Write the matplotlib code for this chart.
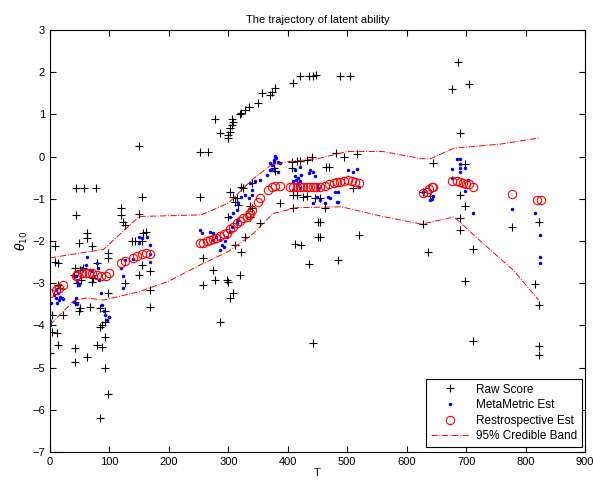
#!/usr/bin/env python3
# coding: utf-8

import numpy
import matplotlib
matplotlib.use('Agg')
from matplotlib import pyplot as plt


TITLE = 'The trajectory of latent ability'
XLABEL = 'T'
YLABEL = r'$\theta_{10}$'

# raw scores (+)
RAW_T = [0, 3, 3, 11, 14, 22, 8, 8, 14, 14, 17,
         43, 57, 77, 43, 48, 62, 62, 70, 42, 50, 56, 79, 73, 70, 98, 98, 42, 48, 50, 67,
         84, 93, 87, 93, 98, 42, 42, 62, 79, 87, 93, 93, 98, 84, 40, 46, 52, 84,
         119, 119, 122, 126, 149, 149, 154, 157, 162, 154, 143, 154, 149, 168, 168, 168, 126, 138,
         252, 266, 252, 278, 286, 299, 300, 303, 306, 306, 303, 308, 320, 322, 328, 334, 350,
         356, 370, 373, 378, 409, 421, 435, 443, 447, 488, 505,
         258, 275, 258, 278, 297, 300, 303, 308, 286, 300, 311, 322, 328, 320, 303, 308, 314,
         311, 317, 322, 325, 339, 336, 339, 336, 354,
         376, 379, 387, 407, 415, 420, 432, 440, 407, 409, 415, 426, 432, 446, 454, 409, 463,
         451, 454, 451, 454, 412, 423, 435, 442, 465, 470, 481, 494, 516, 510, 485, 519,
         628, 639, 645, 628, 636, 687, 676, 705, 690, 698, 690, 698, 690, 690, 712, 698, 712,
         777, 823, 816, 822, 822, 822]
RAW_Y = [-4.66, -3.75, -4.15, -4.17, -4.46, -3.75, -2.13, -2.49, -2.53, -3.04, -3.12,
         -0.75, -0.75, -0.75, -1.38, -2.05, -1.82, -1.93, -2.13, -2.65, -2.68, -2.65, -2.53, -2.88, -2.96, -2.29, -2.41, -3.44, -3.67, -3.59, -3.57,
         -3.59, -3.67, -3.99, -3.91, -3.24, -4.54, -4.86, -4.74, -4.46, -4.5, -4.27, -5.01, -5.63, -6.2, -2.8, -3.0, -2.92, -4.03,
         -1.22, -1.38, -1.54, -1.62, -1.35, 0.24, -0.95, -1.82, -1.78, -2.01, -2.01, -2.57, -2.8, -2.72, -3.16, -3.57, -3.0, -2.01,
         0.12, 0.12, -0.95, 0.89, 0.55, 0.44, 0.51, 0.59, 0.75, 0.89, 0.67, 0.83, 1.0, 1.03, 1.1, 1.18, 1.26,
         1.5, 1.46, 1.54, 1.62, 1.75, 1.9, 1.9, 1.91, 1.94, 1.9, 1.9,
         -2.41, -2.68, -3.04, -2.92, -2.92, -2.98, -3.36, -3.24, -3.91, -1.42, -2.09, -2.27, -1.9, -2.8, -0.83, -0.95, -0.99,
         -1.07, -1.14, -0.71, -0.75, -1.22, -1.42, -0.63, -1.18, -1.57,
         -0.28, -0.33, -1.1, -0.12, -0.1, -0.1, -0.08, 0.0, -0.28, -0.91, -0.91, -0.95, -0.93, -0.99, -0.99, -1.22, -1.22,
         -1.54, -1.54, -1.9, -1.9, -2.07, -2.09, -2.55, -4.42, -0.25, -0.24, 0.08, 0.0, 0.06, -0.75, -2.45, -1.86,
         -0.83, -0.93, -0.14, -1.6, -2.27, 2.25, 1.6, 1.72, 0.57, -0.17, -0.9, -1.17, -1.45, -1.74, -2.18, -2.95, -4.38,
         -1.67, -1.55, -3.02, -3.51, -4.49, -4.7]

# MetaMetric estimates (blue dots)
META_T = [0, 0, 2, 7, 10, 12, 15, 21, 10, 13, 16, 22,
          43, 46, 49, 43, 46, 40, 54, 60, 62, 68, 71, 74, 79, 80, 82, 85, 88, 90, 93, 96, 99,
          120, 122, 122, 127, 149, 149, 154, 163, 168, 168, 168, 140,
          252, 255, 269, 275, 280, 286, 289, 294, 297, 303, 306, 314, 317, 275, 286, 292,
          303, 308, 314, 317, 322, 328, 334, 339, 339, 336, 345, 353, 365, 370, 373, 378,
          381, 384, 376, 387, 379, 376, 370, 373, 384,
          412, 420, 423, 418, 414, 418, 435, 443, 446, 449, 451, 449, 443, 454, 471, 482,
          485, 502, 510, 516, 519, 412, 421, 409, 415, 421, 409, 437, 463, 468, 479, 485,
          628, 639, 642, 645, 685, 690, 690, 690, 698, 676, 676, 690, 704, 698, 711,
          777, 816, 824, 824, 824]
META_Y = [-3.9, -3.99, -3.47, -3.28, -3.36, -3.47, -3.4, -3.36, -3.16, -3.24, -3.32, -3.37,
          -2.84, -2.96, -3.04, -3.36, -3.49, -3.44, -2.65, -2.57, -2.38, -2.68, -2.72, -2.84, -2.53, -2.65, -2.92, -3.24, -3.51, -3.67, -3.75, -3.87, -3.79,
          -2.65, -2.84, -3.12, -2.45, -1.9, -2.04, -1.93, -1.9, -2.09, -2.31, -2.49, -2.42,
          -1.74, -1.82, -1.78, -1.82, -1.9, -1.98, -2.09, -2.01, -1.9, -1.78, -1.66, -1.58, -1.5, -1.98, -2.22, -2.14,
          -1.42, -1.34, -1.26, -1.1, -0.95, -0.91, -0.99, -0.91, -0.79, -0.63, -0.59, -0.55, -0.43, -0.32, -0.2, 0.02,
          -0.04, -0.12, -0.12, -0.16, 0.0, -0.08, -0.16, -0.32, -0.36,
          -0.32, -0.24, -0.43, -0.51, -0.55, -0.63, -0.39, -0.36, -0.47, -0.67, -0.75, -0.95, -1.1, -1.03, -0.99, -1.07,
          -0.83, -0.32, -0.36, -0.3, -0.71, -0.47, -0.59, -0.59, -0.67, -0.75, -0.79, -0.32, -1.1, -0.95, -0.83, -1.07,
          -0.83, -1.03, -1.0, -0.93, -0.06, -0.06, -0.18, -0.28, -0.28, -0.3, -0.51, -0.36, -0.55, -0.81, -1.33,
          -1.24, -1.33, -1.86, -2.38, -2.53]

# retrospective estimates (red circles)
RETRO_T = [0, 10, 15, 22,
           43, 46, 54, 60, 66, 71, 79, 85, 94, 99,
           120, 127, 140, 147, 154, 161, 168,
           252, 258, 264, 269, 275, 280, 286, 292, 297, 303, 308, 314, 320, 325, 331, 334, 336, 339,
           350, 354, 367, 373, 378, 387,
           404, 409, 415, 420, 426, 433, 437, 443, 448, 454, 462, 470, 477, 482, 488, 494, 502, 508, 513, 519,
           628, 634, 638, 642, 645,
           676, 685, 690, 695, 700, 705, 712,
           777, 819, 826]
RETRO_Y = [-3.24, -3.16, -3.12, -3.04,
           -2.84, -2.8, -2.76, -2.75, -2.75, -2.75, -2.8, -2.84, -2.83, -2.76,
           -2.53, -2.48, -2.41, -2.35, -2.31, -2.29, -2.31,
           -2.05, -2.04, -2.01, -1.98, -1.95, -1.92, -1.88, -1.84, -1.8, -1.72, -1.66, -1.58, -1.52, -1.46, -1.42, -1.38, -1.34, -1.26,
           -1.07, -0.99, -0.79, -0.73, -0.69, -0.69,
           -0.73, -0.73, -0.73, -0.73, -0.72, -0.72, -0.72, -0.72, -0.73, -0.73, -0.7, -0.65, -0.62, -0.6, -0.6, -0.58, -0.56, -0.58, -0.6, -0.62,
           -0.87, -0.83, -0.77, -0.73, -0.71,
           -0.58, -0.58, -0.6, -0.63, -0.65, -0.65, -0.71,
           -0.89, -1.04, -1.04]

# 95% credible band
UPPER_T = [0, 90, 150, 255, 300, 340, 370, 400, 450, 500, 560, 625, 640, 680, 760, 822]
UPPER_Y = [-2.4, -2.2, -1.42, -1.38, -1.1, -0.55, -0.22, -0.12, -0.05, 0.12, 0.12, -0.05, -0.05, 0.2, 0.3, 0.44]
LOWER_T = [0, 20, 40, 60, 90, 150, 200, 255, 300, 340, 375, 415, 490, 560, 625, 680, 720, 780, 822]
LOWER_Y = [-3.99, -3.7, -3.42, -3.35, -3.4, -3.2, -2.95, -2.55, -2.25, -1.85, -1.35, -1.21, -1.19, -1.42, -1.6, -1.43, -1.95, -2.7, -3.4]


def get_matplotlib_figure():
    plt.rcParams['font.family'] = ['Liberation Sans', 'DejaVu Sans']
    fig = plt.figure(figsize=(5.93, 4.80), dpi=100)
    ax = fig.add_axes([50 / 593, 28 / 480, 535 / 593, 422 / 480])

    ax.plot(RAW_T, RAW_Y, linestyle='', marker='+', color='black',
            markersize=6, markeredgewidth=0.8, label='Raw Score')
    ax.plot(META_T, META_Y, linestyle='', marker='.', color='blue',
            markersize=3, label='MetaMetric Est')
    ax.plot(RETRO_T, RETRO_Y, linestyle='', marker='o', color='red',
            markerfacecolor='none', markersize=6, markeredgewidth=0.8,
            label='Restrospective Est')
    ax.plot(UPPER_T, UPPER_Y, linestyle='-.', color='red', linewidth=0.7,
            label='95% Credible Band')
    ax.plot(LOWER_T, LOWER_Y, linestyle='-.', color='red', linewidth=0.7)

    ax.set_xlim(0, 900)
    ax.set_ylim(-7, 3)
    ax.set_xticks(numpy.arange(0, 901, 100))
    ax.set_yticks(numpy.arange(-7, 4, 1))
    ax.tick_params(direction='in', top=True, right=True, labelsize=8,
                   length=4, width=0.8)
    for spine in ax.spines.values():
        spine.set_linewidth(0.8)

    ax.set_title(TITLE, fontsize=8, pad=5)
    ax.set_xlabel(XLABEL, fontsize=8, labelpad=1)
    ax.set_ylabel(YLABEL, fontsize=9, labelpad=2)

    leg = ax.legend(loc='lower right', bbox_to_anchor=(0.994, 0.012),
                    borderaxespad=0, fontsize=8.5, fancybox=False,
                    framealpha=1, handlelength=3.2, borderpad=0.4,
                    labelspacing=0.3, handletextpad=0.6)
    leg.get_frame().set_edgecolor('black')
    leg.get_frame().set_linewidth(0.8)

    return fig


def main():
    fig = get_matplotlib_figure()
    fig.savefig('out.png', dpi=100)


if __name__ == '__main__':
    main()
